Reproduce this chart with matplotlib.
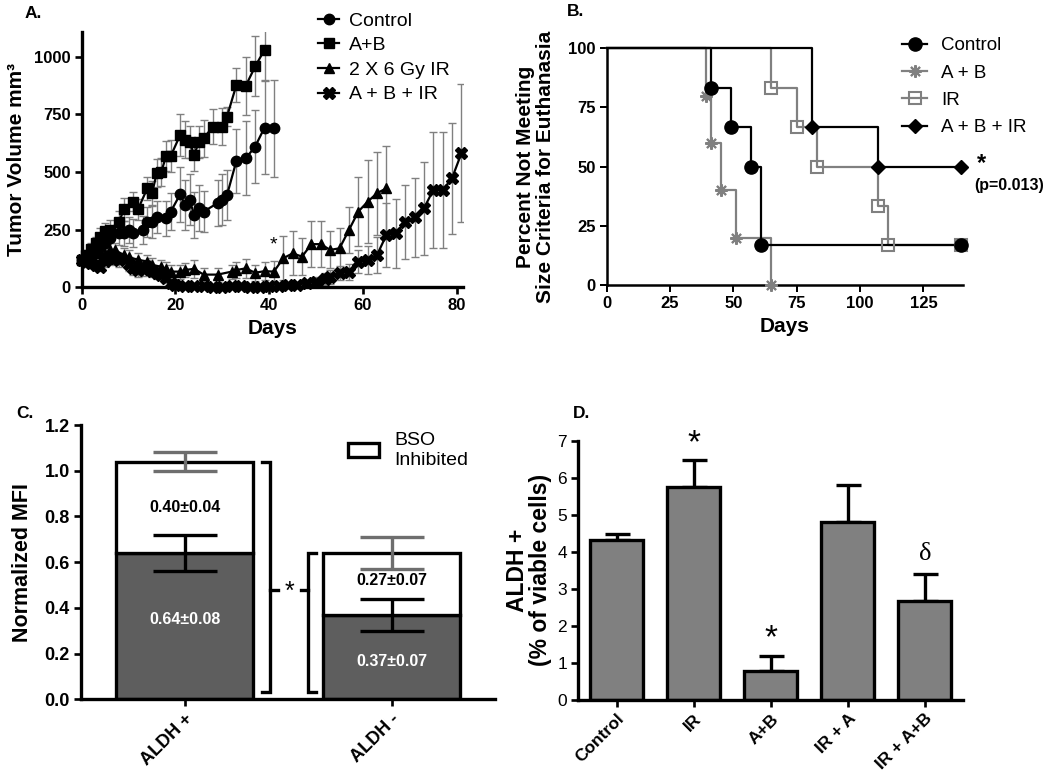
import matplotlib.pyplot as plt
from matplotlib.lines import Line2D

plt.rcParams['font.family'] = ['Liberation Sans', 'DejaVu Sans']
plt.rcParams['axes.linewidth'] = 2

# A. tumour volume over time
ctrl_days = [0, 1, 2, 3, 4, 5, 6, 8, 9, 10, 11, 13, 14, 15, 16, 18, 19, 21, 22, 23, 24, 25, 26, 29, 30, 31, 33, 35, 37, 39, 41]
ctrl_vol = [120, 125, 140, 160, 175, 190, 212, 234, 234, 249, 234, 249, 285, 285, 306, 299, 328, 403, 357, 379, 314, 342, 328, 365, 379, 400, 548, 559, 610, 692, 689]
ctrl_err = [15, 20, 25, 30, 35, 40, 45, 50, 55, 55, 60, 60, 65, 70, 70, 75, 80, 120, 110, 110, 100, 100, 90, 100, 110, 110, 140, 160, 160, 200, 210]

ab_days = [0, 1, 2, 3, 4, 5, 6, 8, 9, 11, 12, 14, 15, 16, 17, 18, 19, 21, 22, 23, 24, 25, 26, 28, 30, 31, 33, 35, 37, 39]
ab_vol = [120, 140, 165, 190, 220, 245, 250, 285, 338, 371, 338, 429, 407, 494, 501, 569, 569, 660, 639, 631, 573, 631, 646, 696, 696, 740, 877, 873, 957, 1029]
ab_err = [15, 20, 25, 30, 35, 35, 40, 45, 50, 40, 45, 50, 55, 60, 60, 65, 70, 90, 80, 70, 70, 70, 80, 75, 80, 40, 75, 125, 130, 130]

ir_days = [0, 1, 2, 3, 4, 5, 6, 7, 9, 10, 12, 14, 15, 17, 18, 19, 21, 22, 24, 26, 29, 32, 33, 35, 37, 39, 41, 43, 45, 47, 49, 51, 53, 55, 57, 59, 61, 63, 65]
ir_vol = [120, 130, 140, 150, 150, 145, 160, 162, 140, 130, 120, 111, 97, 89, 80, 68, 68, 75, 80, 55, 55, 68, 75, 82, 63, 70, 68, 126, 147, 133, 187, 187, 162, 169, 248, 328, 371, 408, 429]
ir_err = [15, 20, 20, 25, 25, 25, 30, 30, 30, 30, 30, 30, 30, 30, 30, 30, 30, 30, 40, 30, 30, 30, 35, 40, 35, 40, 45, 95, 95, 80, 100, 100, 80, 90, 100, 150, 180, 180, 185]

abir_days = [0, 1, 2, 3, 4, 5, 6, 7, 8, 10, 11, 12, 13, 14, 15, 16, 17, 18, 19, 20, 22, 24, 26, 28, 30, 32, 34, 36, 38, 40, 42, 44, 46, 48, 50, 52, 53, 55, 57, 59, 61, 63, 65, 67, 69, 71, 73, 75, 77, 79, 81]
abir_vol = [120, 110, 105, 95, 90, 115, 130, 125, 120, 100, 85, 75, 80, 90, 70, 60, 55, 40, 20, 8, 5, 4, 4, 3, 3, 4, 4, 3, 3, 4, 5, 8, 12, 18, 25, 35, 45, 62, 68, 110, 118, 140, 227, 234, 282, 303, 342, 422, 421, 473, 581]
abir_err = [15, 20, 20, 20, 20, 25, 30, 30, 30, 30, 30, 30, 30, 30, 25, 25, 25, 20, 15, 8, 5, 5, 5, 5, 5, 5, 5, 5, 5, 5, 5, 8, 10, 15, 20, 25, 30, 30, 35, 50, 60, 80, 140, 150, 160, 170, 200, 250, 250, 240, 300]

# B. Kaplan-Meier, percent not meeting size criteria
km_ctrl_t = [0, 41, 49, 57, 61, 140]
km_ctrl_s = [100, 83.3, 66.7, 50, 16.7, 16.7]
km_ab_t = [0, 39, 41, 45, 51, 65]
km_ab_s = [100, 80, 60, 40, 20, 0]
km_ir_t = [0, 65, 75, 83, 107, 111, 140]
km_ir_s = [100, 83.3, 66.7, 50, 33.3, 16.7, 16.7]
km_abir_t = [0, 81, 107, 140]
km_abir_s = [100, 66.7, 50, 50]

# C. normalized MFI
c_groups = ['ALDH +', 'ALDH -']
c_base = [0.64, 0.37]
c_base_err = [0.08, 0.07]
c_bso = [0.40, 0.27]
c_bso_err = [0.04, 0.07]

# D. ALDH+ percentage
d_groups = ['Control', 'IR', 'A+B', 'IR + A', 'IR + A+B']
d_vals = [4.32, 5.76, 0.78, 4.80, 2.68]
d_err = [0.16, 0.72, 0.42, 1.00, 0.72]
d_marks = ['', '*', '*', '', 'δ']

GREY = '#808080'
fig = plt.figure(figsize=(10.5, 7.8), dpi=100)


def add_ax(l, t, r, b):
    return fig.add_axes([l / 1050, 1 - b / 780, (r - l) / 1050, (b - t) / 780])


def prism_style(ax, lw=2.2, size=11.5, weight='bold'):
    for s in ['top', 'right']:
        ax.spines[s].set_visible(False)
    for s in ['left', 'bottom']:
        ax.spines[s].set_linewidth(lw)
    ax.tick_params(direction='out', length=5, width=lw * 0.8, labelsize=size, pad=3)
    for lab in ax.get_xticklabels() + ax.get_yticklabels():
        lab.set_fontweight(weight)


# ---- A ----
axA = add_ax(81.7, 32.3, 463.3, 287.3)
series_a = [
    (ctrl_days, ctrl_vol, ctrl_err, 'o', 7.5, 'Control'),
    (ab_days, ab_vol, ab_err, 's', 7, 'A+B'),
    (ir_days, ir_vol, ir_err, '^', 7.5, '2 X 6 Gy IR'),
    (abir_days, abir_vol, abir_err, 'X', 8, 'A + B + IR'),
]
for d, v, e, m, ms, lab in series_a:
    axA.errorbar(d, v, yerr=e, fmt='none', ecolor=GREY, elinewidth=1, capsize=3, capthick=1, zorder=1)
for d, v, e, m, ms, lab in series_a:
    axA.plot(d, v, color='black', lw=1.6, marker=m, ms=ms, mec='black', mfc='black',
             label=lab, zorder=3, clip_on=False)
axA.set_xlim(0, 81.4)
axA.set_ylim(0, 1105)
axA.set_xticks([0, 20, 40, 60, 80])
axA.set_yticks([0, 250, 500, 750, 1000])
prism_style(axA, lw=2.4, size=12)
axA.set_ylabel('Tumor Volume mm³', fontsize=15, fontweight='bold', va='center')
axA.yaxis.set_label_coords(-0.17, 0.5)
axA.set_xlabel('Days', fontsize=15, fontweight='bold', va='center')
axA.xaxis.set_label_coords(0.5, -0.16)
axA.text(41, 183, '*', fontsize=14, ha='center', va='center')
axA.legend(loc='upper left', bbox_to_anchor=(318 / 1050, 1 - 12 / 780), bbox_transform=fig.transFigure,
           frameon=False, fontsize=14, handlelength=1.1, handletextpad=0.5, labelspacing=0.36,
           borderpad=0, borderaxespad=0)
fig.text(33 / 1050, 1 - 13 / 780, 'A.', fontsize=12.5, fontweight='bold', ha='center', va='center')

# ---- B ----
axB = add_ax(606.7, 48.3, 962.7, 285)
km = [
    (km_ir_t, km_ir_s, GREY, 's', 8.5, 'none', 1.5, 'IR'),
    (km_ab_t, km_ab_s, GREY, (8, 2, 0), 9, GREY, 1.5, 'A + B'),
    (km_ctrl_t, km_ctrl_s, 'black', 'o', 9.5, 'black', 1, 'Control'),
    (km_abir_t, km_abir_s, 'black', 'D', 7, 'black', 1, 'A + B + IR'),
]
handles = {}
for t, s, c, m, ms, mfc, mew, lab in km:
    axB.step(t, s, where='post', color=c, lw=1.6, clip_on=False, zorder=2)
    axB.plot(t[1:], s[1:], ls='none', marker=m, ms=ms, mec=c, mfc=mfc, mew=mew, clip_on=False, zorder=3)
    handles[lab] = Line2D([], [], color=c, lw=1.6, marker=m, ms=ms, mec=c, mfc=mfc, mew=mew)
axB.set_xlim(0, 140.5)
axB.set_ylim(0, 100)
axB.set_xticks([0, 25, 50, 75, 100, 125])
axB.set_yticks([0, 25, 50, 75, 100])
prism_style(axB, lw=1.8, size=12)
axB.set_ylabel('Percent Not Meeting\nSize Criteria for Euthanasia', fontsize=15, fontweight='bold',
               va='center', linespacing=1.1)
axB.yaxis.set_label_coords(-0.2, 0.5)
axB.set_xlabel('Days', fontsize=15, fontweight='bold', va='center')
axB.xaxis.set_label_coords(0.5, -0.175)
order = ['Control', 'A + B', 'IR', 'A + B + IR']
axB.legend([handles[k] for k in order], order, loc='upper left',
           bbox_to_anchor=(902 / 1050, 1 - 37 / 780), bbox_transform=fig.transFigure,
           frameon=False, fontsize=13.5, handlelength=1.35, handletextpad=0.75, labelspacing=0.55,
           borderpad=0, borderaxespad=0)
axB.text(km_abir_t[-1] + 8, km_abir_s[-1] + 1.5, '*', fontsize=17, fontweight='bold', ha='center',
         va='center', clip_on=False)
axB.text(km_abir_t[-1] + 5, km_abir_s[-1] - 8, '(p=0.013)', fontsize=11.5, fontweight='bold',
         ha='left', va='center', clip_on=False)
fig.text(576 / 1050, 1 - 12 / 780, 'B.', fontsize=12.5, fontweight='bold', ha='center', va='center')

# ---- C ----
axC = add_ax(81, 425, 495, 699.3)
xc = list(range(len(c_groups)))
wc = 0.66
axC.bar(xc, c_base, width=wc, color='#5e5e5e', edgecolor='black', linewidth=2.4, zorder=2)
bso_bars = axC.bar(xc, c_bso, width=wc, bottom=c_base, color='white', edgecolor='black', linewidth=2.4,
                   zorder=2, label='BSO\nInhibited')
totals = [b + s for b, s in zip(c_base, c_bso)]
axC.errorbar(xc, c_base, yerr=c_base_err, fmt='none', ecolor='black', elinewidth=2.4, capsize=23,
             capthick=2.4, zorder=3)
axC.errorbar(xc, totals, yerr=c_bso_err, fmt='none', ecolor='#6e6e6e', elinewidth=2.4, capsize=23,
             capthick=2.4, zorder=3, clip_on=False)
base_text_y = [0.35, 0.165]
bso_text_y = [0.84, 0.52]
for i in xc:
    axC.text(i, base_text_y[i], f'{c_base[i]:.2f}±{c_base_err[i]:.2f}',
             color='white', fontsize=11.5, fontweight='bold', ha='center', va='center', zorder=4)
    axC.text(i, bso_text_y[i], f'{c_bso[i]:.2f}±{c_bso_err[i]:.2f}',
             color='black', fontsize=11.5, fontweight='bold', ha='center', va='center', zorder=4)
# significance brackets
ymid = 0.478
axC.plot([0.376, 0.415, 0.415, 0.376], [totals[0], totals[0], 0.03, 0.03], color='black', lw=2.4,
         solid_joinstyle='miter', clip_on=False)
axC.plot([0.637, 0.598, 0.598, 0.637], [totals[1], totals[1], 0.03, 0.03], color='black', lw=2.4,
         solid_joinstyle='miter', clip_on=False)
axC.plot([0.415, 0.45], [ymid, ymid], color='black', lw=2.4)
axC.plot([0.563, 0.598], [ymid, ymid], color='black', lw=2.4)
axC.text(0.506, ymid - 0.01, '*', fontsize=18, ha='center', va='center')
axC.set_xlim(-0.5, 1.5)
axC.set_ylim(0, 1.2)
axC.set_xticks(xc)
axC.set_xticklabels(c_groups, rotation=45, ha='right', rotation_mode='anchor')
axC.set_yticks([0, 0.2, 0.4, 0.6, 0.8, 1.0, 1.2])
axC.set_yticklabels([f'{v:.1f}' for v in [0, 0.2, 0.4, 0.6, 0.8, 1.0, 1.2]])
prism_style(axC, lw=2.4, size=13)
axC.set_ylabel('Normalized MFI', fontsize=15.5, fontweight='bold', va='center')
axC.yaxis.set_label_coords(-0.141, 0.5)
axC.legend(handles=[bso_bars], loc='upper left', bbox_to_anchor=(348 / 1050, 1 - 432 / 780),
           bbox_transform=fig.transFigure, frameon=False, fontsize=14, handlelength=1.6,
           handleheight=0.8, handletextpad=0.8, borderpad=0, borderaxespad=0)
fig.text(25 / 1050, 1 - 414 / 780, 'C.', fontsize=12.5, fontweight='bold', ha='center', va='center')

# ---- D ----
axD = add_ax(578.3, 440.7, 963.3, 700)
xd = list(range(len(d_groups)))
axD.bar(xd, d_vals, width=0.685, color='#808080', edgecolor='black', linewidth=2.4, zorder=2)
axD.errorbar(xd, d_vals, yerr=[[0] * len(d_err), d_err], fmt='none', ecolor='black', elinewidth=2.4,
             capsize=9, capthick=2.4, zorder=1)
for i, mk in enumerate(d_marks):
    if mk == '*':
        axD.text(i, d_vals[i] + d_err[i] + 0.45, mk, fontsize=24, ha='center', va='center')
    elif mk:
        axD.text(i, d_vals[i] + d_err[i] + 0.55, mk, fontsize=19, ha='center', va='center',
                 family='Liberation Serif')
axD.set_xlim(-0.5, 4.5)
axD.set_ylim(0, 7)
axD.set_xticks(xd)
axD.set_xticklabels(d_groups, rotation=45, ha='right', rotation_mode='anchor')
axD.set_yticks(range(8))
prism_style(axD, lw=2.4, size=12.5)
for lab in axD.get_yticklabels():
    lab.set_fontweight('normal')
axD.set_ylabel('ALDH +\n(% of viable cells)', fontsize=16.5, fontweight='bold', va='center', linespacing=1.05)
axD.yaxis.set_label_coords(-0.128, 0.5)
fig.text(582 / 1050, 1 - 413 / 780, 'D.', fontsize=12.5, fontweight='bold', ha='center', va='center')

fig.savefig('out.png', dpi=100)
